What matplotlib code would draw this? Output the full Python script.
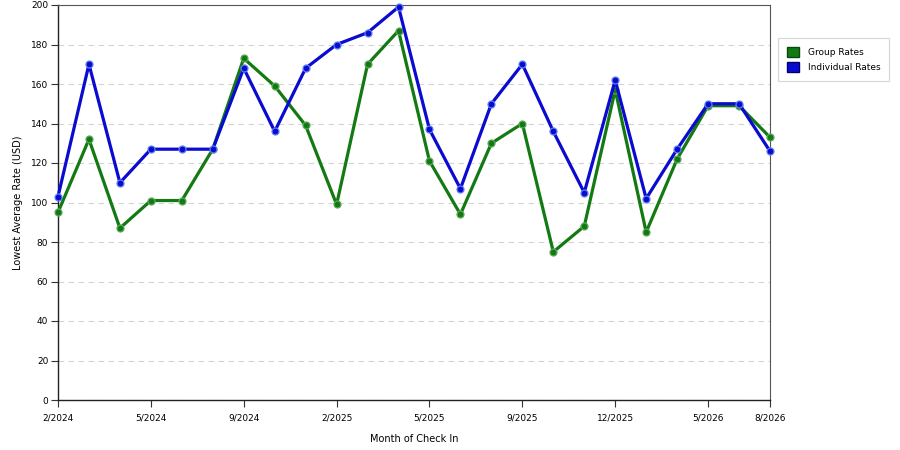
import matplotlib
matplotlib.use('Agg')
import matplotlib.pyplot as plt
from matplotlib.patches import Patch
import numpy as np

# lowest average rate per check-in month (USD)
group_rates = [95, 132, 87, 101, 101, 127, 173, 159, 139, 99, 170, 187,
               121, 94, 130, 140, 75, 88, 157, 85, 122, 149, 149, 133]
individual_rates = [103, 170, 110, 127, 127, 127, 168, 136, 168, 180, 186, 199,
                    137, 107, 150, 170, 136, 105, 162, 102, 127, 150, 150, 126]
tick_labels = ['2/2024', '5/2024', '9/2024', '2/2025', '5/2025',
               '9/2025', '12/2025', '5/2026', '8/2026']

green = '#137a13'
blue = '#0a0ad0'

plt.rcParams['font.family'] = ['DejaVu Sans']

fig = plt.figure(figsize=(9, 4.5), dpi=100)
ax = fig.add_axes([58/900, 50/450, 712/900, 395/450])

x = np.arange(len(group_rates))
ax.plot(x, group_rates, color=green, lw=2.3, marker='o', ms=5,
        mfc=green, mec='#5aa85a', mew=0.9, zorder=3, clip_on=False)
ax.plot(x, individual_rates, color=blue, lw=2.3, marker='o', ms=5,
        mfc=blue, mec='#5c7ff0', mew=0.9, zorder=4, clip_on=False)

ax.set_xlim(0, len(x) - 1)
ax.set_ylim(0, 200)
ax.set_yticks(range(0, 201, 20))
tick_pos = list(range(0, len(x) - 1, 3)) + [len(x) - 1]
ax.set_xticks(tick_pos)
ax.set_xticklabels(tick_labels)
ax.tick_params(labelsize=6.5, length=5, width=0.8, color='#333333', pad=2)
ax.tick_params(axis='x', pad=5)

ax.grid(axis='y', color='#d4d4d4', ls=(0, (5, 4)), lw=0.8)
ax.set_axisbelow(True)
for s in ['left', 'bottom']:
    ax.spines[s].set_color('#222222')
    ax.spines[s].set_linewidth(1.0)
for s in ['top', 'right']:
    ax.spines[s].set_color('#555555')
    ax.spines[s].set_linewidth(0.8)

ax.set_xlabel('Month of Check In', fontsize=7, labelpad=8)
ax.set_ylabel('Lowest Average Rate (USD)', fontsize=7, labelpad=6)

handles = [Patch(facecolor=green, edgecolor='#0a4a0a', label='Group Rates'),
           Patch(facecolor=blue, edgecolor='#00006a', label='Individual Rates')]
leg = fig.legend(handles=handles, loc='upper left', bbox_to_anchor=(778/900, 1 - 38/450),
                 fontsize=6.5, frameon=True, fancybox=False, edgecolor='#cccccc',
                 handlelength=1.3, handleheight=1.3, borderpad=1.0, labelspacing=0.55,
                 handletextpad=1.0, borderaxespad=0)
leg.get_frame().set_linewidth(0.8)

fig.savefig('out.png', dpi=100)
